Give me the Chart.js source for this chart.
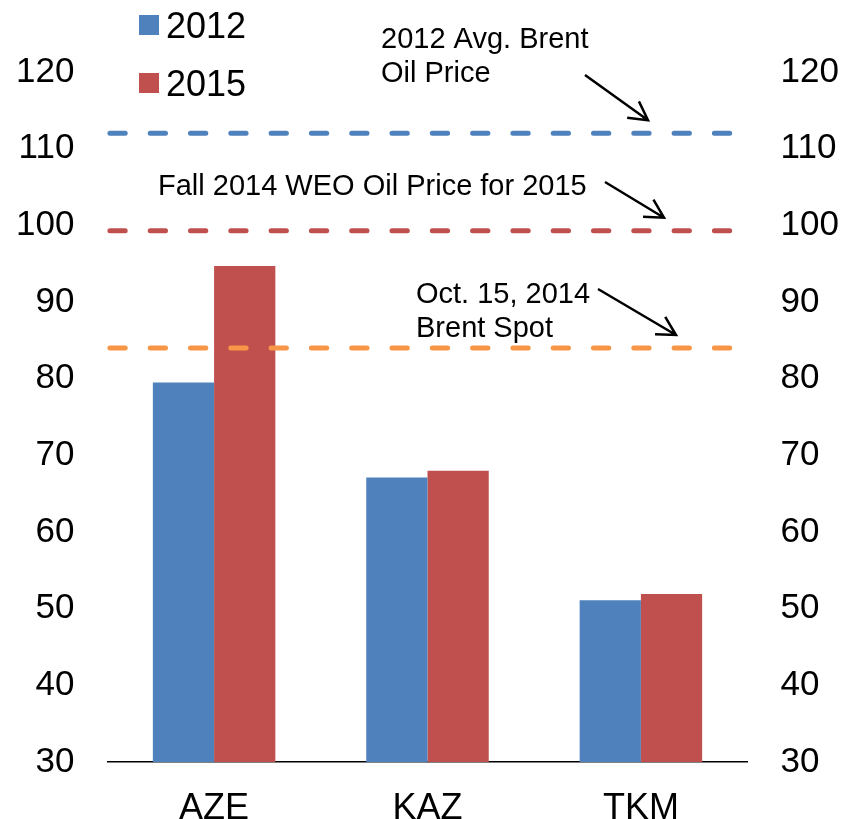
<!doctype html>
<html>
<head>
  <title>Oil price chart</title>
  <script src="https://cdn.jsdelivr.net/npm/chart.js@4.4.1/dist/chart.umd.min.js"></script>
  <style>
    body { margin: 0; background: #fff; }
    .chart { width: 846px; height: 819px; }
  </style>
</head>
<body>
  <div class="chart">
    <canvas id="myChart"></canvas>
  </div>
  <script>
    var categories = ['AZE', 'KAZ', 'TKM'];
    var series2012 = [79.5, 67.1, 51.1];
    var series2015 = [94.7, 68.0, 51.9];
    var seriesNames = ['2012', '2015'];

    // reference price lines
    var refLabels = [
      ['2012 Avg. Brent', 'Oil Price'],
      ['Fall 2014 WEO Oil Price for 2015'],
      ['Oct. 15, 2014', 'Brent Spot']
    ];
    var refValues = [112.0, 99.3, 84.0];

    var colors = {
      blue: '#4F81BD',
      red: '#C0504D',
      orange: '#F79646'
    };
    var refColors = [colors.blue, colors.red, colors.orange];
    var FONT = '"Liberation Sans", Arial, sans-serif';

    // text anchor and arrow start, in pixels
    var notes = [
      { x: 381, y: 48, ax: 585, ay: 75, tx: 648 },
      { x: 158, y: 195, ax: 605, ay: 182, tx: 664 },
      { x: 416, y: 303, ax: 598, ay: 289, tx: 676 }
    ];

    function arrow(ctx, x1, y1, x2, y2) {
      var a = Math.atan2(y2 - y1, x2 - x1);
      var len = 21, spread = 0.5;
      ctx.beginPath();
      ctx.moveTo(x1, y1);
      ctx.lineTo(x2, y2);
      ctx.moveTo(x2 - len * Math.cos(a - spread), y2 - len * Math.sin(a - spread));
      ctx.lineTo(x2, y2);
      ctx.lineTo(x2 - len * Math.cos(a + spread), y2 - len * Math.sin(a + spread));
      ctx.stroke();
    }

    var annotations = {
      id: 'annotations',
      afterDatasetsDraw: function(chart) {
        var ctx = chart.ctx;
        var area = chart.chartArea;
        var y = chart.scales.y;
        ctx.save();
        refValues.forEach(function(v, i) {
          var py = y.getPixelForValue(v);
          ctx.strokeStyle = refColors[i];
          ctx.lineWidth = 5;
          ctx.lineCap = 'round';
          ctx.setLineDash([15.3, 25]);
          ctx.beginPath();
          ctx.moveTo(area.left + 2.5, py);
          ctx.lineTo(area.right - 16, py);
          ctx.stroke();
        });
        ctx.setLineDash([]);
        ctx.lineCap = 'butt';
        ctx.fillStyle = '#000';
        ctx.strokeStyle = '#000';
        ctx.lineWidth = 2.5;
        ctx.font = '29px ' + FONT;
        ctx.textBaseline = 'alphabetic';
        ctx.textAlign = 'left';
        refLabels.forEach(function(lines, i) {
          var n = notes[i];
          lines.forEach(function(t, j) {
            ctx.fillText(t, n.x, n.y + j * 34);
          });
          arrow(ctx, n.ax, n.ay, n.tx, y.getPixelForValue(refValues[i]) - 13);
        });

        // legend
        ctx.font = '36px ' + FONT;
        [colors.blue, colors.red].forEach(function(c, i) {
          ctx.fillStyle = c;
          ctx.fillRect(139, 15 + i * 58, 20, 20);
          ctx.fillStyle = '#000';
          ctx.fillText(seriesNames[i], 166, 37.5 + i * 58);
        });
        ctx.restore();
      }
    };

    var tickFont = { family: FONT, size: 35 };

    var config = {
      type: 'bar',
      data: {
        labels: categories,
        datasets: [{
          label: seriesNames[0],
          data: series2012,
          backgroundColor: colors.blue
        }, {
          label: seriesNames[1],
          data: series2015,
          backgroundColor: colors.red
        }]
      },
      options: {
        responsive: true,
        maintainAspectRatio: false,
        animation: false,
        layout: {
          padding: { left: -17, right: -26, top: 72, bottom: -29 }
        },
        datasets: {
          bar: {
            barPercentage: 1,
            categoryPercentage: 0.574
          }
        },
        scales: {
          x: {
            grid: { display: false },
            border: { display: true, color: '#000', width: 1.5 },
            ticks: { color: '#000', font: { family: FONT, size: 36, lineHeight: 1 }, padding: 21 }
          },
          y: {
            min: 30,
            max: 120,
            grid: { display: false, drawTicks: false },
            border: { display: false },
            ticks: { stepSize: 10, color: '#000', font: tickFont, padding: 33 }
          },
          y2: {
            position: 'right',
            min: 30,
            max: 120,
            grid: { display: false, drawTicks: false },
            border: { display: false },
            ticks: { stepSize: 10, color: '#000', font: tickFont, padding: 33 }
          }
        },
        plugins: {
          legend: { display: false },
          tooltip: { enabled: false }
        }
      },
      plugins: [annotations]
    };

    window.onload = function() {
      var ctx = document.getElementById('myChart').getContext('2d');
      window.myChart = new Chart(ctx, config);
    };
  </script>
</body>
</html>
